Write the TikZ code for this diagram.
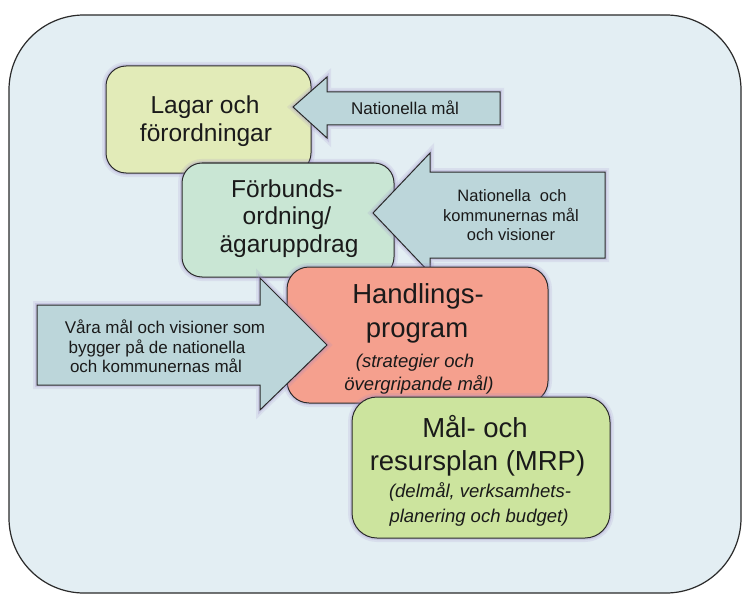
\documentclass[tikz,border=0pt]{standalone}
\usepackage{fontspec}
\setmainfont{Liberation Sans}
\definecolor{bgc}{HTML}{E3EEF3}
\definecolor{lagarc}{HTML}{E2EBB8}
\definecolor{forbc}{HTML}{C9E6D4}
\definecolor{handc}{HTML}{F5A08E}
\definecolor{malc}{HTML}{CCE49E}
\definecolor{arrc}{HTML}{BCD6DA}
\definecolor{glowc}{HTML}{9A88C8}
\definecolor{linec}{HTML}{2A2A2A}
\definecolor{txtc}{HTML}{1A1A1A}
\begin{document}
\begin{tikzpicture}[x=1pt,y=-1pt,
  glow/.style={preaction={draw=glowc, line width=8pt, opacity=0.15},
               preaction={draw=glowc, line width=4pt, opacity=0.25}},
  box/.style={glow, draw=linec, line width=1pt, rounded corners=20pt, inner sep=0pt},
  blockarrow/.style={glow, draw=linec, line width=1pt, fill=arrc},
  ln/.style={anchor=base, inner sep=0pt, text=txtc},
  big/.style={ln, font=\fontsize{24.5}{29}\selectfont},
  huge/.style={ln, font=\fontsize{27.5}{33}\selectfont},
  ital/.style={ln, font=\fontsize{18.5}{22}\selectfont\itshape},
  small/.style={ln, font=\fontsize{16.5}{20}\selectfont}
]
\useasboundingbox (0,0) rectangle (743,596);
\fill[white] (0,0) rectangle (743,596);
\draw[fill=bgc, line width=1.2pt, draw=linec, rounded corners=75pt] (9,15) rectangle (741,593);

% Lagar
\node[box, fill=lagarc, minimum width=205pt, minimum height=107pt] (lagar) at (208.5,119.5) {};
\node[big] (lagar1) at (205,114) {Lagar och};
\node[big] (lagar2) at (206,142) {förordningar};
% Arrow 1
\draw[blockarrow] (293,107) -- (327,77) -- (327,92) -- (500,92) -- (500,125)
   -- (327,125) -- (327,138) -- cycle;
\node[ln, font=\fontsize{17}{20}\selectfont] (nat) at (405,115) {Nationella mål};

% Forbunds
\node[box, fill=forbc, minimum width=212pt, minimum height=114pt] (forb) at (288,220) {};
\node[big] (forb1) at (287,197) {Förbunds-};
\node[big] (forb2) at (287,224.5) {ordning/};
\node[big] (forb3) at (289,252) {ägaruppdrag};
% Arrow 2
\draw[blockarrow] (373,213) -- (430,153) -- (430,172) -- (605,172) -- (605,258)
   -- (430,258) -- (430,273) -- cycle;
\node[small] (nk1) at (512,201.5) {Nationella\ \ och};
\node[small] (nk2) at (511,221.5) {kommunernas mål};
\node[small] (nk3) at (511,240) {och visioner};

% Handlings
\node[box, fill=handc, minimum width=261pt, minimum height=136pt,
      rounded corners=22pt] (hand) at (417.5,335) {};
\node[huge] (hand1) at (418,303) {Handlings-};
\node[huge] (hand2) at (417,337) {program};
\node[ital] (hand3) at (415,367) {(strategier och};
\node[ital] (hand4) at (419,390) {övergripande mål)};
% Arrow 3
\draw[blockarrow] (37,305) -- (260,305) -- (260,278) -- (327,345) -- (260,410)
   -- (260,385) -- (37,385) -- cycle;
\node[ln, font=\fontsize{17}{20}\selectfont] (v1) at (165,333) {Våra mål och visioner som};
\node[ln, font=\fontsize{17}{20}\selectfont] (v2) at (157,353) {bygger på de nationella};
\node[ln, font=\fontsize{17}{20}\selectfont] (v3) at (156,372) {och kommunernas mål};

% Mal
\node[box, fill=malc, minimum width=258pt, minimum height=141pt,
      rounded corners=25pt] (mal) at (481,467.5) {};
\node[huge] (mal1) at (475,437) {Mål- och};
\node[huge] (mal2) at (477.5,470) {resursplan (MRP)};
\node[ital] (mal3) at (480,497) {(delmål, verksamhets-};
\node[ital] (mal4) at (479,522) {planering och budget)};
\end{tikzpicture}
\end{document}
